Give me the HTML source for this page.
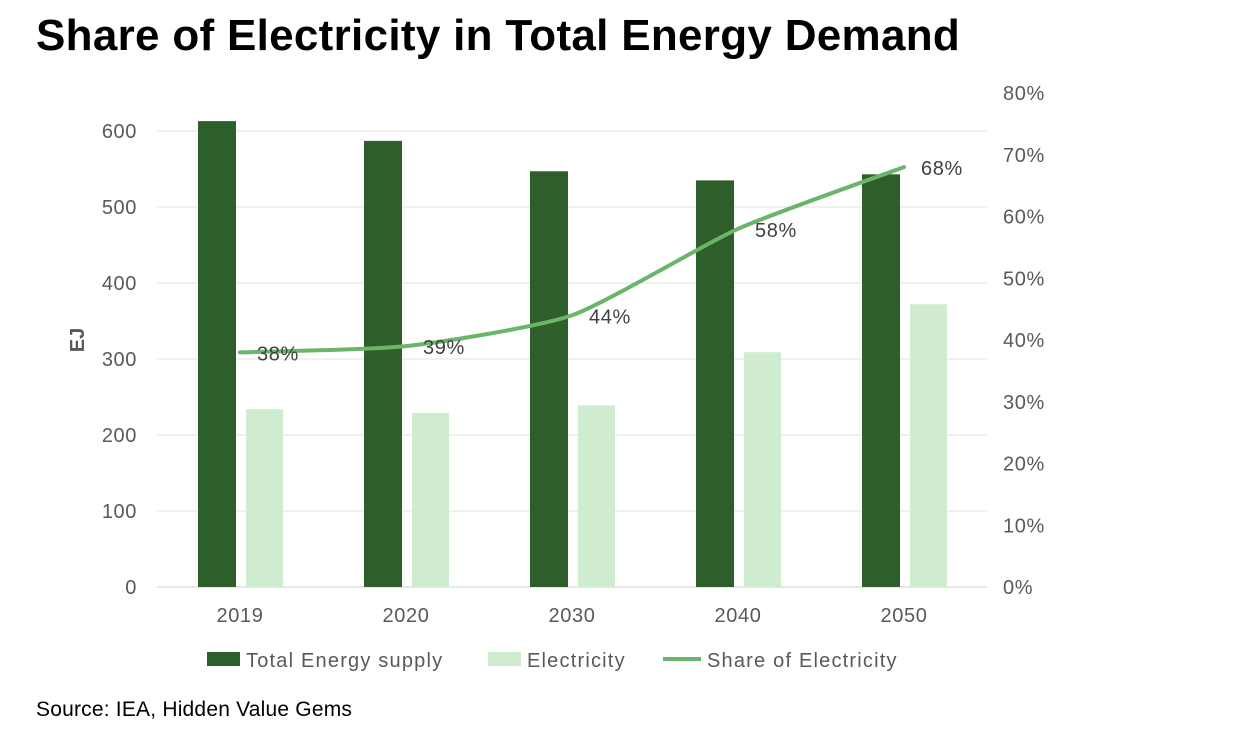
<!DOCTYPE html>
<html><head><meta charset="utf-8"><style>
body{margin:0;background:#fff;font-family:"Liberation Sans",sans-serif;}
#wrap{position:relative;width:1248px;height:744px;overflow:hidden;}
h1{position:absolute;left:36px;top:11px;margin:0;font-size:44px;font-weight:bold;color:#000;letter-spacing:0.3px;}
#src{position:absolute;left:36px;top:698px;font-size:21px;color:#000;letter-spacing:0.2px;}
</style></head><body>
<div id="wrap">
<h1>Share of Electricity in Total Energy Demand</h1>
<svg id="chart" width="1248" height="744" style="position:absolute;left:0;top:0"></svg>
<div id="src">Source: IEA, Hidden Value Gems</div>
</div>
<script>
const categories=["2019","2020","2030","2040","2050"];
const totalSupply=[613,587,547,535,543];
const electricity=[234,229,239,309,372];
const share=[38,39,44,58,68];
const leftTicks=[0,100,200,300,400,500,600];
const rightTicks=[0,10,20,30,40,50,60,70,80];
const NS="http://www.w3.org/2000/svg";
const svg=document.getElementById('chart');
const x0=157,x1=987,y0=587;
const band=(x1-x0)/categories.length;
const cx=i=>x0+band*(i+0.5);
const yL=v=>y0-v*0.76;
const yR=v=>y0-v*6.175;
function mk(t,a){const e=document.createElementNS(NS,t);for(const k in a)e.setAttribute(k,a[k]);svg.appendChild(e);return e;}
leftTicks.forEach(v=>{
 const g=mk('line',{x1:x0,x2:x1,y1:yL(v),y2:yL(v),stroke:v===0?'#d0d0d0':'#e3e3e3','stroke-width':1});
 
 
 const t=mk('text',{x:137,y:yL(v)+7,'text-anchor':'end','font-size':20,'letter-spacing':0.6,fill:'#595959','font-family':'Liberation Sans'});
 t.textContent=v;
 
 
});
rightTicks.forEach(v=>{
 const t=mk('text',{x:1003,y:yR(v)+7,'font-size':20,'letter-spacing':0.6,fill:'#595959','font-family':'Liberation Sans'});
 t.textContent=v+'%';
 
 
});
const yt=mk('text',{x:0,y:0,'font-size':20,'font-weight':'bold',fill:'#595959','text-anchor':'middle',transform:'translate(84,340) rotate(-90)','font-family':'Liberation Sans'});
yt.textContent='EJ';


categories.forEach((c,i)=>{
 const b1=mk('rect',{x:cx(i)-42,y:yL(totalSupply[i]),width:38,height:y0-yL(totalSupply[i]),fill:'#2e5e2a'});
 
 
 const b2=mk('rect',{x:cx(i)+6,y:yL(electricity[i]),width:37,height:y0-yL(electricity[i]),fill:'#d0ecd0'});
 
 
 const t=mk('text',{x:cx(i),y:622,'text-anchor':'middle','font-size':20,'letter-spacing':0.6,fill:'#595959','font-family':'Liberation Sans'});
 t.textContent=c;
 
 
});
const pts=share.map((v,i)=>[cx(i),yR(v)]);
let d='M'+pts[0][0]+','+pts[0][1];
for(let i=0;i<pts.length-1;i++){
 const p0=pts[Math.max(0,i-1)],p1=pts[i],p2=pts[i+1],p3=pts[Math.min(pts.length-1,i+2)];
 const s=0.1;
 d+=` C${p1[0]+(p2[0]-p0[0])*s},${p1[1]+(p2[1]-p0[1])*s} ${p2[0]-(p3[0]-p1[0])*s},${p2[1]-(p3[1]-p1[1])*s} ${p2[0]},${p2[1]}`;
}
const ln=mk('path',{d:d,fill:'none',stroke:'#6ab56a','stroke-width':4,'stroke-linecap':'round'});


share.forEach((v,i)=>{
 const t=mk('text',{x:cx(i)+17,y:yR(v)+8,'font-size':20,'letter-spacing':0.6,fill:'#404040','font-family':'Liberation Sans'});
 t.textContent=v+'%';
 
 
});
const legend=[['rect','#2e5e2a',207,'Total Energy supply'],['rect','#d0ecd0',488,'Electricity'],['line','#6ab56a',663,'Share of Electricity']];
legend.forEach(l=>{
 let m;
 if(l[0]==='rect') m=mk('rect',{x:l[2],y:652,width:33,height:14,fill:l[1]});
 else m=mk('line',{x1:l[2],x2:l[2]+38,y1:659,y2:659,stroke:l[1],'stroke-width':4});
 
 
 const t=mk('text',{x:l[2]+(l[0]==='rect'?39:44),y:667,'font-size':20,'letter-spacing':1.2,fill:'#595959','font-family':'Liberation Sans'});
 t.textContent=l[3];
 
 
});
</script>
</body></html>
